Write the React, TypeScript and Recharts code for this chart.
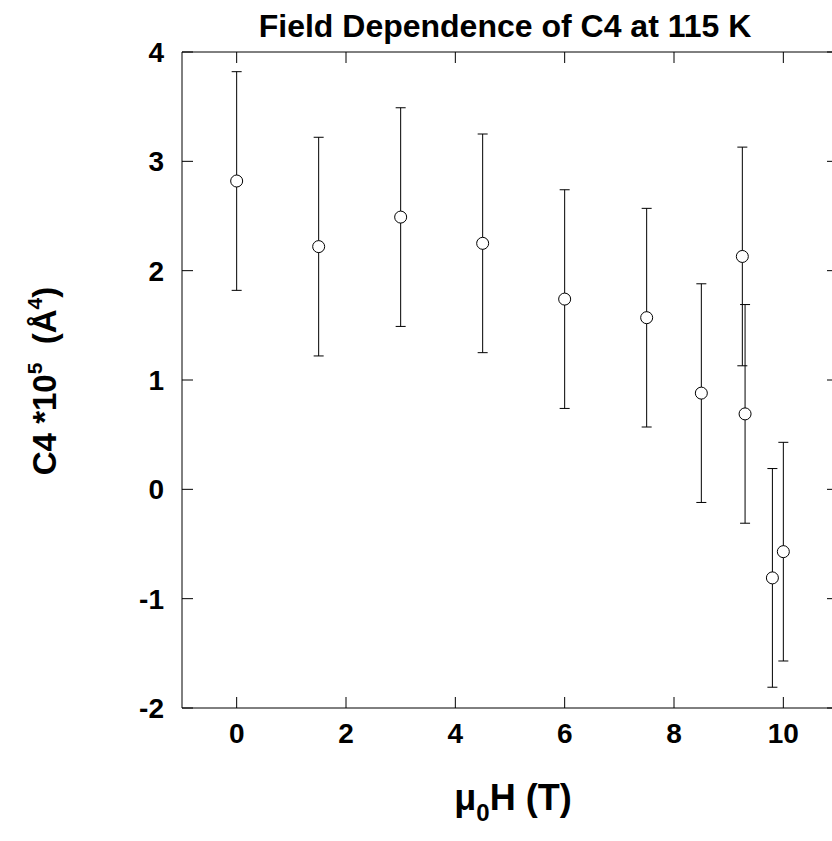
import React from 'react';
import { ScatterChart, Scatter, XAxis, YAxis, ErrorBar } from 'recharts';

// field (T), C4 *10^5 (Å^4), error
const fields = [0, 1.5, 3, 4.5, 6, 7.5, 8.5, 9.25, 9.3, 9.8, 10];
const c4Values = [2.82, 2.22, 2.49, 2.25, 1.74, 1.57, 0.88, 2.13, 0.69, -0.81, -0.57];
const c4Errors = [1.0, 1.0, 1.0, 1.0, 1.0, 1.0, 1.0, 1.0, 1.0, 1.0, 1.0];

const xTicks = [0, 2, 4, 6, 8, 10];
const yTicks = [-2, -1, 0, 1, 2, 3, 4];

const FONT = '"Liberation Sans", Arial, sans-serif';
const TICK_LEN = 11;

const OpenCircle = (props: any) => {
  const { cx, cy } = props;
  return <circle cx={cx} cy={cy} r={6} fill="#fff" stroke="#000" strokeWidth={1} />;
};

const NoShape = () => <g />;

// inward ticks for all four sides, labels only on bottom and left
const BottomTick = (props: any) => {
  const { x, y, payload } = props;
  return (
    <g>
      <line x1={x} y1={y} x2={x} y2={y - TICK_LEN} stroke="#000" />
      <text x={x} y={y + 15} dy="0.71em" textAnchor="middle" fontFamily={FONT} fontSize={28} fontWeight="bold" fill="#000">
        {payload.value}
      </text>
    </g>
  );
};

const LeftTick = (props: any) => {
  const { x, y, payload } = props;
  return (
    <g>
      <line x1={x} y1={y} x2={x + TICK_LEN} y2={y} stroke="#000" />
      <text x={x - 18} y={y} dy="0.355em" textAnchor="end" fontFamily={FONT} fontSize={28} fontWeight="bold" fill="#000">
        {payload.value}
      </text>
    </g>
  );
};

const TopTick = (props: any) => {
  const { x, y } = props;
  return <line x1={x} y1={y} x2={x} y2={y + TICK_LEN} stroke="#000" />;
};

const RightTick = (props: any) => {
  const { x, y } = props;
  return <line x1={x} y1={y} x2={x - TICK_LEN} y2={y} stroke="#000" />;
};

export default function App() {
  const data = fields.map((f, i) => ({ field: f, c4: c4Values[i], err: c4Errors[i] }));

  return (
    <div style={{ position: 'absolute', left: 0, top: 0, width: 832, height: 841, overflow: 'hidden', background: '#fff' }}>
      <ScatterChart width={850} height={841} margin={{ top: 51, right: 11, bottom: 93, left: 0 }}>
        <XAxis
          xAxisId="b"
          type="number"
          dataKey="field"
          domain={[-1, 11]}
          ticks={xTicks}
          interval={0}
          allowDataOverflow
          height={40}
          stroke="#000"
          tickLine={false}
          tickSize={0}
          tickMargin={0}
          tick={BottomTick}
        />
        <XAxis
          xAxisId="t"
          orientation="top"
          type="number"
          dataKey="field"
          domain={[-1, 11]}
          ticks={xTicks}
          interval={0}
          allowDataOverflow
          height={1}
          stroke="#000"
          tickLine={false}
          tickSize={0}
          tickMargin={0}
          tick={TopTick}
        />
        <YAxis
          yAxisId="l"
          type="number"
          dataKey="c4"
          domain={[-2, 4]}
          ticks={yTicks}
          interval={0}
          allowDataOverflow
          width={182}
          stroke="#000"
          tickLine={false}
          tickSize={0}
          tickMargin={0}
          tick={LeftTick}
        />
        <YAxis
          yAxisId="r"
          orientation="right"
          type="number"
          dataKey="c4"
          domain={[-2, 4]}
          ticks={yTicks}
          interval={0}
          allowDataOverflow
          width={1}
          stroke="#000"
          tickLine={false}
          tickSize={0}
          tickMargin={0}
          tick={RightTick}
        />
        <Scatter data={data} xAxisId="t" yAxisId="r" shape={NoShape} isAnimationActive={false} />
        <Scatter data={data} xAxisId="b" yAxisId="l" shape={OpenCircle} isAnimationActive={false}>
          <ErrorBar dataKey="err" direction="y" width={5} stroke="#000" strokeWidth={1} isAnimationActive={false} />
        </Scatter>
      </ScatterChart>
      <svg width={832} height={841} style={{ position: 'absolute', left: 0, top: 0, pointerEvents: 'none' }}>
        <text x={505} y={37} textAnchor="middle" fontFamily={FONT} fontSize={32} fontWeight="bold">
          Field Dependence of C4 at 115 K
        </text>
        <text
          transform="translate(56,381) rotate(-90)"
          textAnchor="middle"
          fontFamily={FONT}
          fontSize={33}
          fontWeight="bold"
          style={{ whiteSpace: 'pre' }}
        >
          C4 *10<tspan dy={-14} fontSize={21}>5</tspan>
          <tspan dy={14}>{'  (Å'}</tspan>
          <tspan dy={-14} fontSize={21}>4</tspan>
          <tspan dy={14}>)</tspan>
        </text>
        <text x={513} y={810} textAnchor="middle" fontFamily={FONT} fontSize={36} fontWeight="bold">
          μ<tspan dy={11} fontSize={24}>0</tspan>
          <tspan dy={-11}>H (T)</tspan>
        </text>
      </svg>
    </div>
  );
}
